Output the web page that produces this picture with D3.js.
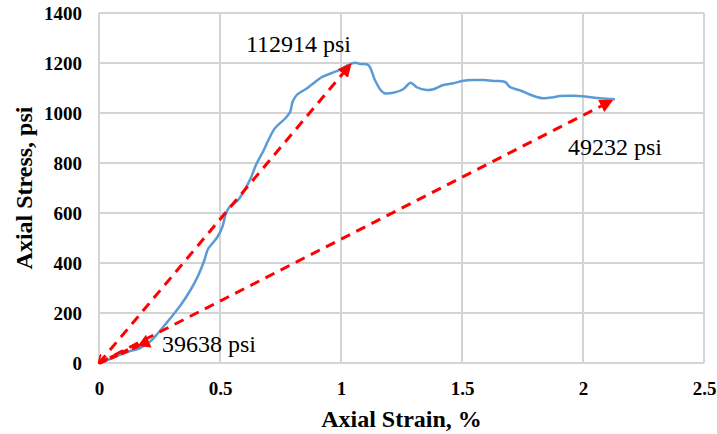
<!DOCTYPE html>
<html><head><meta charset="utf-8">
<script src="https://cdn.jsdelivr.net/npm/d3@7"></script>
<style>body{margin:0;background:#fff}svg{display:block}text{font-family:'Liberation Serif','Times New Roman',serif}</style>
</head><body>
<script>
const strain = [0,0.03,0.066,0.12,0.17,0.21,0.24,0.27,0.30,0.34,0.38,0.41,0.435,0.45,0.47,0.49,0.51,0.525,0.54,0.575,0.60,0.625,0.65,0.68,0.70,0.727,0.77,0.79,0.80,0.817,0.86,0.886,0.92,0.96,1.00,1.03,1.058,1.08,1.113,1.14,1.165,1.18,1.216,1.257,1.288,1.313,1.354,1.382,1.423,1.464,1.506,1.547,1.588,1.636,1.678,1.698,1.746,1.794,1.836,1.877,1.905,1.96,2.015,2.07,2.132];
const stress = [0,10,25,45,60,85,115,150,185,235,295,350,410,455,480,505,545,600,625,652,690,735,795,850,892,939,979,1005,1045,1072,1099,1119,1143,1159,1175,1192,1201,1196,1192,1132,1090,1079,1081,1095,1121,1103,1092,1095,1112,1119,1129,1132,1132,1128,1124,1104,1088,1069,1059,1063,1068,1069,1065,1059,1055];
const xTicks = [0,0.5,1,1.5,2,2.5];
const yTicks = [0,200,400,600,800,1000,1200,1400];
const xTickLabels = ["0","0.5","1","1.5","2","2.5"];
const yTickLabels = ["0","200","400","600","800","1000","1200","1400"];
const arrowLabels = ["112914 psi","49232 psi","39638 psi"];
const arrowEnds = [[1.04,1195],[2.12,1050],[0.2,85]];
const labelPos = [[0.607,1244],[1.938,832],[0.26,44]];

const W=717,H=434, m={l:99,t:13,r:13,b:71};
const svg=d3.select("body").append("svg").attr("width",W).attr("height",H);
const x=d3.scaleLinear().domain([0,2.5]).range([m.l,W-m.r]);
const y=d3.scaleLinear().domain([0,1400]).range([H-m.b,m.t]);
const serif="'Liberation Serif','Times New Roman',serif";

const defs=svg.append("defs");
defs.append("marker").attr("id","ah").attr("viewBox","0 0 10 10").attr("refX",9).attr("refY",5)
 .attr("markerWidth",4.5).attr("markerHeight",4.5).attr("markerUnits","strokeWidth").attr("orient","auto")
 .append("path").attr("d","M0,0L10,5L0,10z").attr("fill","#ff0000");
defs.append("marker").attr("id","ahs").attr("viewBox","0 0 10 10").attr("refX",9).attr("refY",5)
 .attr("markerWidth",3).attr("markerHeight",3).attr("markerUnits","strokeWidth").attr("orient","auto-start-reverse")
 .append("path").attr("d","M0,0L10,5L0,10").attr("fill","none").attr("stroke","#ff0000").attr("stroke-width",2);

// grid
const g=svg.append("g");
g.selectAll(".gx").data(xTicks).join("line").attr("x1",d=>x(d)).attr("x2",d=>x(d)).attr("y1",y(0)).attr("y2",y(1400))
 .attr("stroke","#d4d4d4").attr("stroke-width",2);
g.selectAll(".gy").data(yTicks).join("line").attr("y1",d=>y(d)).attr("y2",d=>y(d)).attr("x1",x(0)).attr("x2",x(2.5))
 .attr("stroke","#d4d4d4").attr("stroke-width",2);

// axes labels
const xa=svg.append("g").attr("transform",`translate(0,${y(0)})`)
 .call(d3.axisBottom(x).tickValues(xTicks).tickFormat((d,i)=>xTickLabels[i]).tickSize(0).tickPadding(19));
const ya=svg.append("g").attr("transform",`translate(${x(0)},0)`)
 .call(d3.axisLeft(y).tickValues(yTicks).tickFormat((d,i)=>yTickLabels[i]).tickSize(0).tickPadding(17));
[xa,ya].forEach(a=>{a.attr("font-family",null).attr("font-size",null);a.select(".domain").remove();a.selectAll("text").style("font-family",serif).style("font-weight","bold").style("font-size","19px").attr("fill","#000");});
xa.selectAll("text").attr("dy","0.71em");

// curve
svg.append("path").datum(strain.map((s,i)=>[s,stress[i]]))
 .attr("d",d3.line().x(d=>x(d[0])).y(d=>y(d[1])).curve(d3.curveCatmullRom))
 .attr("fill","none").attr("stroke","#5b9bd5").attr("stroke-width",2.5).attr("stroke-linejoin","round");

// arrows
arrowEnds.forEach((e,i)=>{
  const p=svg.append("line").attr("x1",x(0)).attr("y1",y(0)).attr("x2",x(e[0])).attr("y2",y(e[1]))
   .attr("stroke","#ff0000").attr("stroke-width",i==2?4:3).attr("stroke-dasharray",i==2?"8,4":"10,7");
  if(i<2) p.attr("marker-end","url(#ah)");
  if(i==0) p.attr("marker-start","url(#ahs)");
});
// arrowhead on short arrow pointing toward origin
{
  const e=arrowEnds[2];
  const a=[x(e[0]*0.8),y(e[1]*0.8)];
  const ang=Math.atan2(y(0)-a[1],x(0)-a[0]);
  svg.append("path").attr("d","M0,0L-12,-7L-12,7z").attr("fill","#ff0000")
   .attr("transform",`translate(${a[0]},${a[1]}) rotate(${ang*180/Math.PI})`);
}

// arrow labels
svg.selectAll(".al").data(arrowLabels).join("text").attr("x",(d,i)=>x(labelPos[i][0])).attr("y",(d,i)=>y(labelPos[i][1]))
 .style("font-family",serif).style("font-size","24px").attr("fill","#000").text(d=>d);

// titles
svg.append("text").attr("x",(x(0)+x(2.5))/2).attr("y",427).attr("text-anchor","middle")
 .style("font-family",serif).style("font-weight","bold").style("font-size","24px").text("Axial Strain, %");
svg.append("text").attr("transform",`translate(32,${(y(0)+y(1400))/2}) rotate(-90)`).attr("text-anchor","middle")
 .style("font-family",serif).style("font-weight","bold").style("font-size","24px").text("Axial Stress, psi");
</script>
</body></html>
